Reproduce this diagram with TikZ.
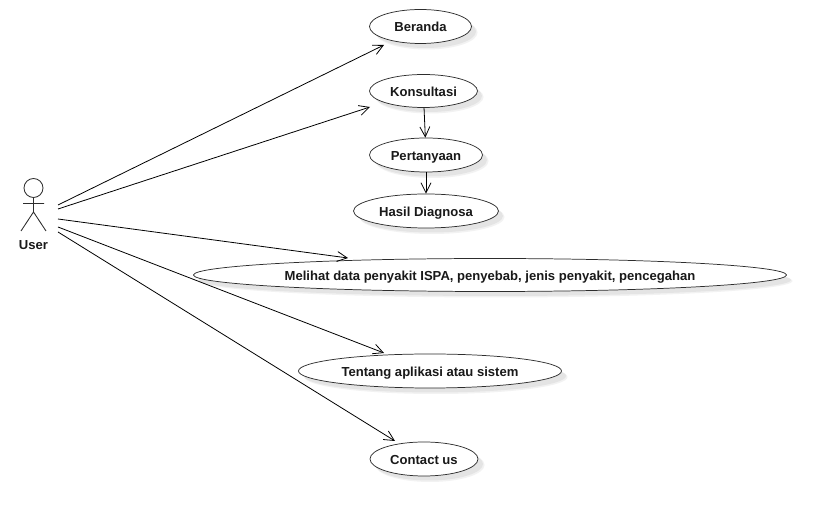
\documentclass[tikz,border=0pt]{standalone}
\usepackage{fontspec}
\setmainfont{Liberation Sans}
\usetikzlibrary{arrows.meta,shapes.geometric}
\definecolor{shadowc}{RGB}{228,228,228}
\definecolor{shadowd}{RGB}{242,242,242}
\definecolor{linec}{RGB}{45,45,45}
\newcommand\uctext[1]{\smash{\raisebox{-4.1pt}{#1}}}
\tikzset{
 uc/.style={ellipse,draw=linec,line width=0.55pt,fill=white,inner sep=0pt,font=\bfseries\fontsize{9.8}{11}\selectfont,text=black!90},
 ucsize/.style n args={2}{minimum width=#1*0.75pt,minimum height=#2*0.75pt},
 lab/.style={font=\bfseries\fontsize{9.8}{11}\selectfont,inner sep=0pt,text=black!90},
 arr/.style={draw=black,line width=0.6pt,-{Straight Barb[length=7.5pt,width=7.5pt,line width=0.6pt]}},
 actor/.style={draw=linec,line width=0.65pt}
}
\begin{document}
\begin{tikzpicture}[x=0.75pt,y=-0.75pt]
\useasboundingbox (0,0) rectangle (826,516);
\fill[white] (0,0) rectangle (826,516);
% soft shadows
\foreach \cx/\cy/\rx/\ry in {420.5/26.5/51/17,423.5/91/54/16.5,426/155/56.5/17,426/211/72.5/17,490/275/296.5/16.5,430/371/131.5/17,424/459/54.5/17}{
 \fill[shadowd] (\cx+6,\cy+6) ellipse [x radius=\rx,y radius=\ry];
 \fill[shadowc] (\cx+5,\cy+5) ellipse [x radius=\rx-0.5,y radius=\ry-0.5];
}
\node[uc,ucsize={102}{34}] (beranda) at (420.5,26.5) {\uctext{Beranda}};
\node[uc,ucsize={108}{33}] (kons) at (423.5,91) {\uctext{Konsultasi}};
\node[uc,ucsize={113}{34}] (tanya) at (426,155) {\uctext{Pertanyaan}};
\node[uc,ucsize={145}{34}] (hasil) at (426,211) {\uctext{Hasil Diagnosa}};
\node[uc,ucsize={593}{33}] (lihat) at (490,275) {\uctext{Melihat data penyakit ISPA, penyebab, jenis penyakit, pencegahan}};
\node[uc,ucsize={263}{34}] (tentang) at (430,371) {\uctext{Tentang aplikasi atau sistem}};
\node[uc,ucsize={108}{34}] (contact) at (424,459) {\uctext{Contact us}};
\node[lab] (user) at (33.5,245) {User};
\node[circle,draw=linec,line width=0.65pt,fill=white,minimum size=14.25pt,inner sep=0pt] (head) at (33.5,188) {};
\coordinate (hip) at (33.5,212);
\draw[actor] (head.south) -- (hip) (23,203.5) -- (44,203.5) (hip) -- (21,231) (hip) -- (46,231);
\coordinate (u1) at (58,205);
\coordinate (u2) at (58,209);
\coordinate (u3) at (58,219);
\coordinate (u4) at (58,227);
\coordinate (u5) at (58,232);
\coordinate (e1) at ([shift={(-36.5,18.5)}]beranda.center);
\coordinate (e2) at ([shift={(-53.5,16)}]kons.center);
\coordinate (e3) at ([shift={(-142,-17)}]lihat.center);
\coordinate (e4) at ([shift={(-46,-18)}]tentang.center);
\coordinate (e5) at ([shift={(-29,-18)}]contact.center);
\draw[arr] (u1) -- (e1);
\draw[arr] (u2) -- (e2);
\draw[arr] (u3) -- (e3);
\draw[arr] (u4) -- (e4);
\draw[arr] (u5) -- (e5);
\draw[arr] ([xshift=0.4pt]kons.south) -- ([xshift=-0.5pt]tanya.north);
\draw[arr] (tanya.south) -- (hasil.north);
\end{tikzpicture}
\end{document}
